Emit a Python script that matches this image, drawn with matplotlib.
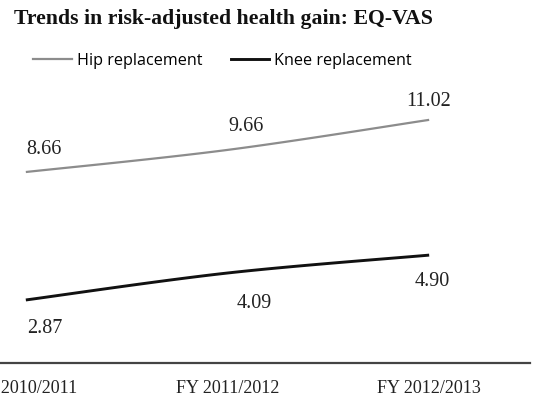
import numpy as np
import matplotlib
matplotlib.use("Agg")
import matplotlib.pyplot as plt
from matplotlib.lines import Line2D

# Data
categories = ["FY 2010/2011", "FY 2011/2012", "FY 2012/2013"]
hip_values = [8.66, 9.66, 11.02]
knee_values = [2.87, 4.09, 4.90]
series_names = ["Hip replacement", "Knee replacement"]

# Label offsets (pixels) relative to each point
hip_offsets = [(18, 23), (19, 23), (-1, 18)]
knee_offsets = [(19, -29), (27, -30), (3, -26)]

W, H = 534, 396
fig = plt.figure(figsize=(W / 100, H / 100), dpi=100)
fig.patch.set_facecolor("white")

# axes span beyond the left edge of the figure
left_px, right_px = -75, 530
bottom_px, top_px = 363.4, 98.2
ax = fig.add_axes([left_px / W, (H - bottom_px) / H,
                   (right_px - left_px) / W, (bottom_px - top_px) / H])
ax.set_xlim(-0.5, 2.5)
ax.set_ylim(0, 12)


def smooth(xs, ys, n=60, tension=1 / 6):
    """Bezier smoothing through the points (Excel-style smoothed line)."""
    xs = np.asarray(xs, float)
    ys = np.asarray(ys, float)
    px, py = [], []
    m = len(xs)
    for i in range(m - 1):
        x0, y0 = xs[max(i - 1, 0)], ys[max(i - 1, 0)]
        x1, y1 = xs[i], ys[i]
        x2, y2 = xs[i + 1], ys[i + 1]
        x3, y3 = xs[min(i + 2, m - 1)], ys[min(i + 2, m - 1)]
        c1x, c1y = x1 + (x2 - x0) * tension, y1 + (y2 - y0) * tension
        c2x, c2y = x2 - (x3 - x1) * tension, y2 - (y3 - y1) * tension
        t = np.linspace(0, 1, n)
        bx = (1 - t) ** 3 * x1 + 3 * (1 - t) ** 2 * t * c1x + 3 * (1 - t) * t ** 2 * c2x + t ** 3 * x2
        by = (1 - t) ** 3 * y1 + 3 * (1 - t) ** 2 * t * c1y + 3 * (1 - t) * t ** 2 * c2y + t ** 3 * y2
        px.extend(bx)
        py.extend(by)
    return np.array(px), np.array(py)


x = np.arange(len(categories))
hip_color = "#8c8c8c"
knee_color = "#111111"

hx, hy = smooth(x, hip_values)
kx, ky = smooth(x, knee_values)
ax.plot(hx, hy, color=hip_color, lw=1.6, solid_capstyle="butt")
ax.plot(kx, ky, color=knee_color, lw=2.1, solid_capstyle="butt")

label_font = dict(family="Liberation Serif", size=14.5, color="#222222")
for xi, v, (dx, dy) in zip(x, hip_values, hip_offsets):
    ax.annotate(f"{v:.2f}", (xi, v), xytext=(dx, dy), textcoords="offset pixels",
                ha="center", va="center", **label_font)
for xi, v, (dx, dy) in zip(x, knee_values, knee_offsets):
    ax.annotate(f"{v:.2f}", (xi, v), xytext=(dx, dy), textcoords="offset pixels",
                ha="center", va="center", **label_font)

# Axis styling
for side in ["top", "right", "left"]:
    ax.spines[side].set_visible(False)
ax.spines["bottom"].set_color("#444444")
ax.spines["bottom"].set_linewidth(1.6)
ax.set_yticks([])
ax.set_xticks(x)
ax.set_xticklabels(categories, family="Liberation Serif", fontsize=13, color="#222222")
ax.tick_params(axis="x", length=0, pad=12)

# Title
fig.text(14 / W, 1 - 19 / H, "Trends in risk-adjusted health gain: EQ-VAS",
         family="Liberation Serif", fontweight="bold", fontsize=15.7,
         ha="left", va="center", color="#111111")

# Legend
handles = [Line2D([], [], color=hip_color, lw=1.6),
           Line2D([], [], color=knee_color, lw=2.1)]
fig.legend(handles, series_names, loc="center left",
           bbox_to_anchor=(33 / W, 1 - 61 / H), ncol=2, frameon=False,
           prop=dict(family="Open Sans", size=11.6),
           handlelength=2.4, handletextpad=0.32, columnspacing=1.75,
           borderaxespad=0, borderpad=0)

fig.savefig("out.png", dpi=100, facecolor="white")
